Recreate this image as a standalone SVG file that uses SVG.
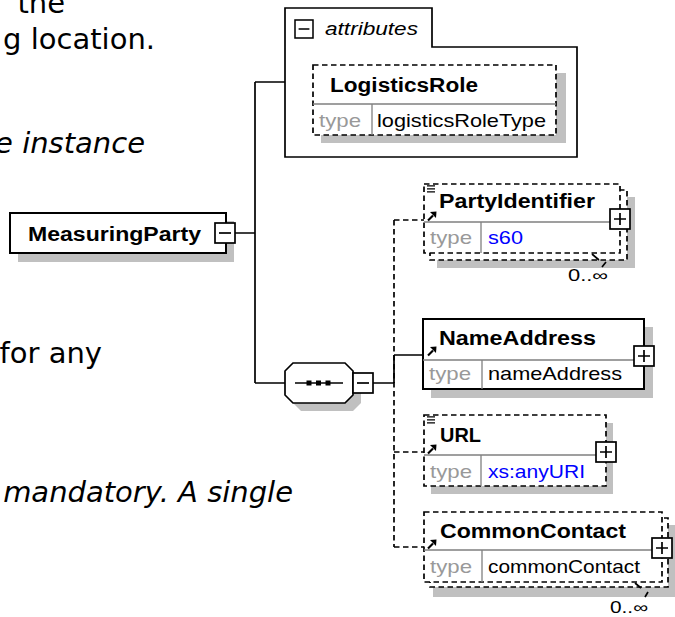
<svg xmlns="http://www.w3.org/2000/svg" width="675" height="617" viewBox="0 0 675 617">
<style>
.bg{font-family:"DejaVu Sans",Verdana,sans-serif;font-size:29px;fill:#000}
.it{font-style:italic}
.t{font-family:"Liberation Sans",Arial,sans-serif}
.b{font-weight:bold;font-size:20px;fill:#000}
.ty{font-size:19px;fill:#999}
.v{font-size:19px;fill:#000}
.blue{fill:#0000ff}
.bx{fill:#fff;stroke:#000;stroke-width:1.7}
.solid{stroke-width:2}
.dsh{stroke-dasharray:5.5 3.5}
.sh{fill:#c0c0c0;stroke:none}
.dv{stroke:#808080;stroke-width:1.3;fill:none}
.ln{stroke:#000;stroke-width:1.7;fill:none}
.mult{font-family:"Liberation Sans",Arial,sans-serif;font-size:16px;fill:#000}
</style>
<defs>
<g id="plus"><rect x="0" y="0" width="20" height="20" fill="#fff" stroke="#000" stroke-width="1.7"/><path d="M4,10H16M10,4V16" stroke="#000" stroke-width="1.7"/></g>
<g id="minus"><rect x="0" y="0" width="20" height="20" fill="#fff" stroke="#000" stroke-width="1.7"/><path d="M4,10H16" stroke="#000" stroke-width="1.7"/></g>
<g id="refarrow"><path d="M1,8.5 L6,3.5" stroke="#000" stroke-width="2.2"/><path d="M9.5,-0.5 L3,0 L9,6 Z" fill="#000"/></g>
<g id="seqicon"><path d="M0,0.8H8M0,3.8H8M0,6.8H8" stroke="#000" stroke-width="1.3"/></g>
</defs>
<rect width="675" height="617" fill="#fff"/>

<g id="background-text">
<text class="bg" x="65" y="13" text-anchor="end">the</text>
<text class="bg" x="155" y="49" text-anchor="end">g location.</text>
<text class="bg it" x="145" y="153" text-anchor="end">e instance</text>
<text class="bg" x="102" y="363" text-anchor="end">for any</text>
<text class="bg it" x="293" y="502" text-anchor="end">mandatory. A single</text>
</g>

<g id="connectors">
<path class="ln" d="M235,233H255M255,82V383M255,82H285M255,383H285M373,383H394"/>
<path class="ln dsh" d="M394,220V547M394,220H424M394,452H424M394,547H424"/>
<path class="ln" d="M394,355V383M394,355H423"/>
</g>

<g id="attributes">
<path d="M285,8H432V47H577V157H285Z" fill="#fff" stroke="#000" stroke-width="1.7"/>
<use href="#minus" transform="translate(295,20) scale(0.9)"/>
<text class="t it" x="325" y="35" font-size="19" textLength="93" lengthAdjust="spacingAndGlyphs">attributes</text>
</g>

<g id="LogisticsRole">
<rect class="sh" x="321" y="73" width="245" height="70"/>
<rect class="bx dsh" x="313" y="65" width="243" height="70"/>
<path class="dv" d="M313,104H556M372,104V135"/>
<text class="t b" x="330" y="92" textLength="148" lengthAdjust="spacingAndGlyphs">LogisticsRole</text>
<text class="t ty" x="319" y="127" textLength="42" lengthAdjust="spacingAndGlyphs">type</text>
<text class="t v" x="377" y="127" textLength="169" lengthAdjust="spacingAndGlyphs">logisticsRoleType</text>
</g>

<g id="MeasuringParty">
<rect class="sh" x="18" y="221" width="216" height="41"/>
<rect class="bx solid" x="10" y="213" width="216" height="40"/>
<text class="t b" x="28" y="241" textLength="173" lengthAdjust="spacingAndGlyphs">MeasuringParty</text>
<use href="#minus" transform="translate(215,223)"/>
</g>

<g id="sequence">
<polygon class="sh" points="301,371 353,371 361,379 361,403 353,411 301,411 293,403 293,379"/>
<polygon class="bx" points="293,363 345,363 353,371 353,395 345,403 293,403 285,395 285,371"/>
<path class="ln" d="M295,383H343"/>
<rect x="306.5" y="380.5" width="5" height="5" fill="#000"/>
<rect x="316" y="380.5" width="5" height="5" fill="#000"/>
<rect x="325.5" y="380.5" width="5" height="5" fill="#000"/>
<use href="#minus" transform="translate(353,373)"/>
</g>

<g id="PartyIdentifier">
<rect class="sh" x="437" y="197" width="198" height="71"/>
<rect class="bx dsh" x="430" y="190" width="197" height="70"/>
<rect class="bx dsh" x="424" y="184" width="196" height="69"/>
<path class="dv" d="M424,222H620M481,222V253"/>
<use href="#seqicon" transform="translate(427,185)"/>
<use href="#refarrow" transform="translate(427,212)"/>
<text class="t b" x="439" y="208" textLength="156" lengthAdjust="spacingAndGlyphs">PartyIdentifier</text>
<text class="t ty" x="430" y="244" textLength="42" lengthAdjust="spacingAndGlyphs">type</text>
<text class="t v blue" x="488" y="244" textLength="35" lengthAdjust="spacingAndGlyphs">s60</text>
<use href="#plus" transform="translate(610,209)"/>
<path class="ln" d="M592,254L599,260M606,262L602,267" stroke-width="1.5"/>
<text class="mult" x="568" y="281" textLength="40" lengthAdjust="spacingAndGlyphs">0..∞</text>
</g>

<g id="NameAddress">
<rect class="sh" x="431" y="327" width="222" height="71"/>
<rect class="bx solid" x="423" y="319" width="221" height="70"/>
<path class="dv" d="M423,360H644M482,360V389"/>
<use href="#refarrow" transform="translate(427,347)"/>
<text class="t b" x="439" y="345" textLength="157" lengthAdjust="spacingAndGlyphs">NameAddress</text>
<text class="t ty" x="429" y="380" textLength="42" lengthAdjust="spacingAndGlyphs">type</text>
<text class="t v" x="488" y="380" textLength="134" lengthAdjust="spacingAndGlyphs">nameAddress</text>
<use href="#plus" transform="translate(634,346)"/>
</g>

<g id="URL">
<rect class="sh" x="431" y="423" width="182" height="71"/>
<rect class="bx dsh" x="424" y="415" width="182" height="71"/>
<path class="dv" d="M424,455H606M481,455V486"/>
<use href="#seqicon" transform="translate(427,416)"/>
<use href="#refarrow" transform="translate(427,445)"/>
<text class="t b" x="440" y="442" textLength="41" lengthAdjust="spacingAndGlyphs">URL</text>
<text class="t ty" x="430" y="478" textLength="42" lengthAdjust="spacingAndGlyphs">type</text>
<text class="t v blue" x="488" y="478" textLength="97" lengthAdjust="spacingAndGlyphs">xs:anyURI</text>
<use href="#plus" transform="translate(596,442)"/>
</g>

<g id="CommonContact">
<rect class="sh" x="433" y="525" width="244" height="72"/>
<rect class="bx dsh" x="430" y="518" width="238" height="69"/>
<rect class="bx dsh" x="424" y="512" width="238" height="70"/>
<path class="dv" d="M424,550H662M482,550V582"/>
<use href="#refarrow" transform="translate(427,540)"/>
<text class="t b" x="440" y="538" textLength="186" lengthAdjust="spacingAndGlyphs">CommonContact</text>
<text class="t ty" x="430" y="573" textLength="42" lengthAdjust="spacingAndGlyphs">type</text>
<text class="t v" x="488" y="573" textLength="152" lengthAdjust="spacingAndGlyphs">commonContact</text>
<use href="#plus" transform="translate(652,538)"/>
<path class="ln" d="M635,583L641,588M648,592L645,597" stroke-width="1.5"/>
<text class="mult" x="610" y="613" textLength="38" lengthAdjust="spacingAndGlyphs">0..∞</text>
</g>
</svg>
